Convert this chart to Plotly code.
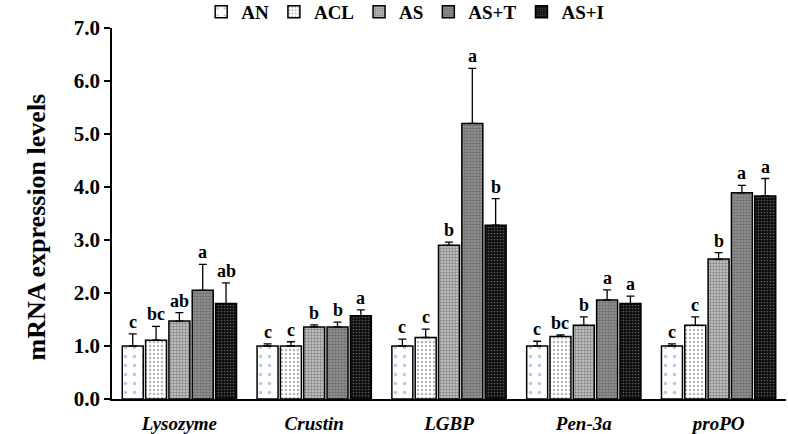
import plotly.graph_objects as go

genes = ["Lysozyme", "Crustin", "LGBP", "Pen-3a", "proPO"]
groups = ["AN", "ACL", "AS", "AS+T", "AS+I"]

an_vals = [1.00, 1.00, 1.00, 1.00, 1.00]
acl_vals = [1.11, 1.00, 1.16, 1.18, 1.39]
as_vals = [1.47, 1.36, 2.90, 1.39, 2.64]
ast_vals = [2.05, 1.36, 5.20, 1.87, 3.89]
asi_vals = [1.80, 1.57, 3.28, 1.80, 3.83]

an_err = [0.23, 0.04, 0.13, 0.09, 0.04]
acl_err = [0.26, 0.08, 0.16, 0.03, 0.16]
as_err = [0.16, 0.04, 0.06, 0.16, 0.12]
ast_err = [0.49, 0.09, 1.04, 0.19, 0.14]
asi_err = [0.39, 0.11, 0.50, 0.14, 0.33]

an_sig = ["c", "c", "c", "c", "c"]
acl_sig = ["bc", "c", "c", "bc", "c"]
as_sig = ["ab", "b", "b", "b", "b"]
ast_sig = ["a", "b", "a", "a", "a"]
asi_sig = ["ab", "a", "b", "a", "a"]

y_title = "mRNA expression levels"

values = [an_vals, acl_vals, as_vals, ast_vals, asi_vals]
errors = [an_err, acl_err, as_err, ast_err, asi_err]
sigs = [an_sig, acl_sig, as_sig, ast_sig, asi_sig]

patterns = [
    dict(shape=".", bgcolor="white", fgcolor="#6f90dc", size=9, solidity=0.12),
    dict(shape=".", bgcolor="white", fgcolor="#6a6a6a", size=4, solidity=0.3),
    dict(shape=".", bgcolor="#cccccc", fgcolor="#404040", size=3, solidity=0.5),
    dict(shape=".", bgcolor="#9a9a9a", fgcolor="#454545", size=3, solidity=0.6),
    dict(shape=".", bgcolor="#0d0d0d", fgcolor="#a8a8a8", size=3, solidity=0.25),
]

FONT = "Liberation Serif, Times New Roman, serif"
W, H = 788, 434
ML, MR, MT, MB = 112, 2, 28, 35
BARGAP = 0.135

fig = go.Figure()
for j, g in enumerate(groups):
    fig.add_trace(go.Bar(
        name=g, x=genes, y=values[j],
        marker=dict(color=patterns[j]["bgcolor"], pattern=patterns[j],
                    line=dict(color="black", width=1.5)),
        error_y=dict(type="data", symmetric=False, array=errors[j],
                     arrayminus=[0] * len(genes), color="black",
                     thickness=1.3, width=4),
    ))

plot_w = W - ML - MR
plot_h = H - MT - MB
pitch = plot_w / len(genes) * (1 - BARGAP) / len(groups)
for j in range(len(groups)):
    off = (j - (len(groups) - 1) / 2) * pitch
    for i, gname in enumerate(genes):
        fig.add_annotation(
            x=gname, y=values[j][i] + errors[j][i], text=sigs[j][i],
            showarrow=False, xshift=off, yanchor="bottom", yshift=0,
            font=dict(family=FONT, size=18, color="black", weight="bold"),
        )

fig.add_annotation(
    text=y_title, xref="paper", yref="paper", x=0, y=0.5,
    xanchor="center", yanchor="middle", xshift=-76, yshift=-14,
    textangle=-90, showarrow=False,
    font=dict(family=FONT, size=26, color="black", weight="bold"),
)

fig.update_layout(
    width=W, height=H,
    margin=dict(l=ML, r=MR, t=MT, b=MB, autoexpand=False),
    paper_bgcolor="white", plot_bgcolor="white",
    barmode="group", bargap=BARGAP, bargroupgap=0.1,
    font=dict(family=FONT, color="black"),
    showlegend=True,
    legend=dict(orientation="h", x=0.435, xanchor="center",
                y=1 + (MT + 7) / plot_h, yanchor="top",
                font=dict(family=FONT, size=19, weight="bold"),
                itemwidth=30, traceorder="normal"),
    xaxis=dict(
        tickvals=genes, ticktext=[f"<i>{g}</i>" for g in genes],
        showline=True, linecolor="black", linewidth=1.5,
        ticks="outside", ticklen=6, tickcolor="rgba(0,0,0,0)",
        tickfont=dict(family=FONT, size=19, weight="bold", style="italic"),
        showgrid=False,
    ),
    yaxis=dict(
        range=[0, 7], dtick=1, tickformat=".1f",
        showline=True, linecolor="black", linewidth=1.5,
        ticks="outside", ticklen=6, tickwidth=1.5, tickcolor="black",
        tickfont=dict(family=FONT, size=21, weight="bold"),
        showgrid=False, zeroline=False,
    ),
)

fig.write_html("out.html")
